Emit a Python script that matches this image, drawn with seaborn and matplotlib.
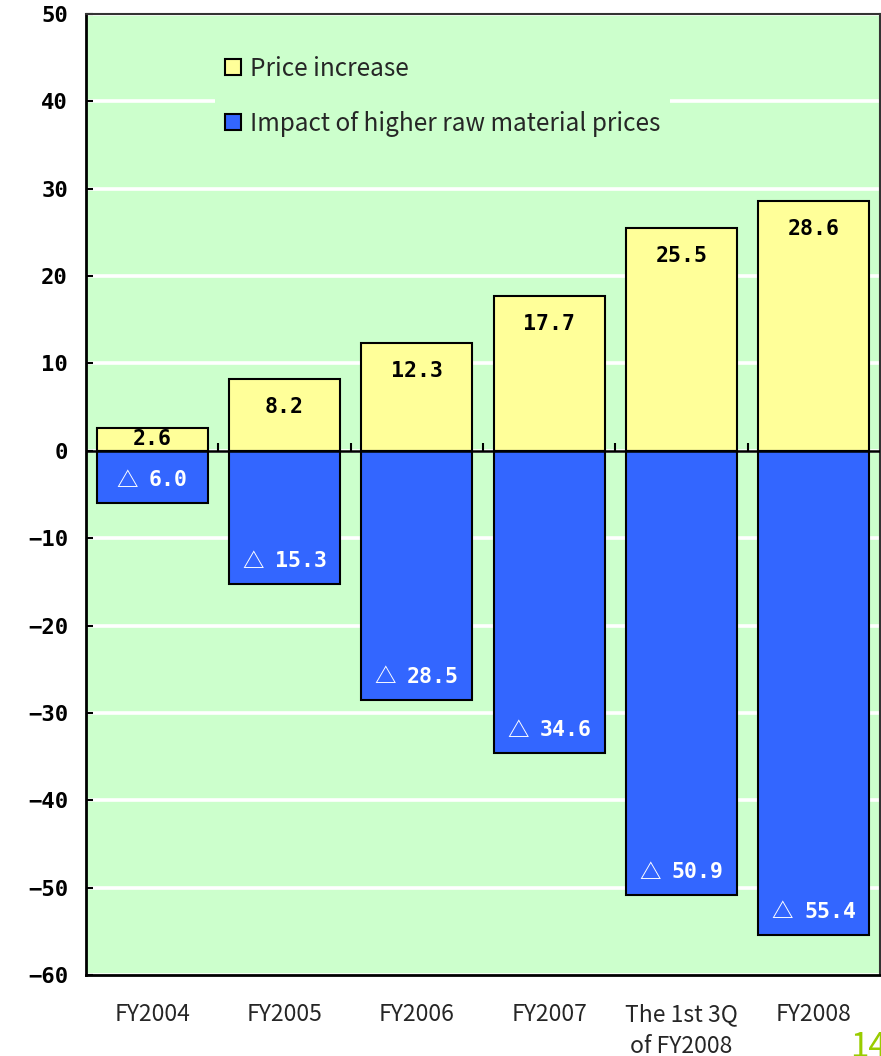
import matplotlib
matplotlib.use("Agg")
import matplotlib.pyplot as plt
from matplotlib.patches import Patch
import seaborn as sns
import pandas as pd

categories = ["FY2004", "FY2005", "FY2006", "FY2007", "The 1st 3Q\nof FY2008", "FY2008"]
price_increase = [2.6, 8.2, 12.3, 17.7, 25.5, 28.6]
raw_material_impact = [-6.0, -15.3, -28.5, -34.6, -50.9, -55.4]
series_names = ["Price increase", "Impact of higher raw material prices"]
y_ticks = list(range(-60, 51, 10))

GREEN = "#CCFFCC"
YELLOW = "#FFFF99"
BLUE = "#3366FF"
MONO = ["DejaVu Sans Mono", "DejaVu Sans"]
CJK = ["Noto Sans CJK JP", "DejaVu Sans"]

sns.set_theme(style="white")
plt.rcParams["font.family"] = CJK

df = pd.DataFrame({
    "category": categories * 2,
    "value": price_increase + raw_material_impact,
    "series": [series_names[0]] * len(categories) + [series_names[1]] * len(categories),
})

fig = plt.figure(figsize=(8.81, 10.56), dpi=100)
ax = fig.add_axes([86 / 881, 1 - 975 / 1056, (880 - 86) / 881, (975 - 14) / 1056])
ax.set_facecolor(GREEN)

sns.barplot(data=df, x="category", y="value", hue="series", order=categories,
            hue_order=series_names, dodge=False, saturation=1,
            palette={series_names[0]: YELLOW, series_names[1]: BLUE},
            edgecolor="black", linewidth=1.5, width=0.84, legend=False, ax=ax, zorder=3)

ax.set_xlim(-0.5, len(categories) - 0.5)
ax.set_ylim(-60, 50)
ax.set_yticks(y_ticks)
ax.set_yticklabels([str(t).replace("-", "\u2212") for t in y_ticks],
                   fontsize=16, fontweight="bold", family=MONO)
ax.yaxis.grid(True, color="white", linewidth=2.6)
ax.xaxis.grid(False)
ax.set_axisbelow(True)
ax.set_xlabel("")
ax.set_ylabel("")
ax.tick_params(axis="y", direction="in", length=5, width=1.5, pad=13, colors="black", left=True)
ax.tick_params(axis="x", length=0, pad=20, labelsize=16.5)
for lbl in ax.get_xticklabels():
    lbl.set_linespacing(1.5)
    lbl.set_verticalalignment("top")

for side in ["left", "bottom"]:
    ax.spines[side].set_color("black")
    ax.spines[side].set_linewidth(2)
for side in ["top", "right"]:
    ax.spines[side].set_color("#333333")
    ax.spines[side].set_linewidth(1.5)

# zero axis with separator ticks between categories
zero_pos = (0 - (-60)) / (50 - (-60))
sec = ax.secondary_xaxis(zero_pos)
sec.set_xticks([i + 0.5 for i in range(len(categories) - 1)])
sec.set_xticklabels([])
sec.tick_params(axis="x", direction="in", length=6, width=1.5, labelbottom=False,
                labeltop=False, bottom=True, top=False, colors="black")
sec.spines["bottom"].set_linewidth(1.8)
sec.spines["bottom"].set_color("black")
sec.spines["top"].set_visible(False)
sec.set_zorder(4)
ax.axhline(0, color="black", linewidth=1.8, zorder=4)

px2pt = 72 / 100
LABEL_FS = 15.5
fs_px = LABEL_FS * 100 / 72
for i, v in enumerate(price_increase):
    if v < 5:
        ax.text(i, v / 2, f"{v:.1f}", ha="center", va="center", fontsize=LABEL_FS,
                fontweight="bold", color="black", zorder=5, family=MONO)
    else:
        ax.annotate(f"{v:.1f}", xy=(i, v), xytext=(0, -28 * px2pt), textcoords="offset points",
                    ha="center", va="center", fontsize=LABEL_FS, fontweight="bold",
                    color="black", zorder=5, family=MONO)

for i, v in enumerate(raw_material_impact):
    num = f"{abs(v):.1f}"
    num_w = len(num) * 0.602 * fs_px
    tri_w = fs_px
    gap = 11
    left = -(tri_w + gap + num_w) / 2
    ax.annotate("△", xy=(i, v), xytext=(left * px2pt, 23 * px2pt), textcoords="offset points",
                ha="left", va="center", fontsize=LABEL_FS, fontweight="bold",
                color="white", zorder=5, family=CJK)
    ax.annotate(num, xy=(i, v), xytext=((left + tri_w + gap) * px2pt, 23 * px2pt),
                textcoords="offset points", ha="left", va="center", fontsize=LABEL_FS,
                fontweight="bold", color="white", zorder=5, family=MONO)

handles = [Patch(facecolor=YELLOW, edgecolor="black", linewidth=1.5),
           Patch(facecolor=BLUE, edgecolor="black", linewidth=1.5)]
leg = ax.legend(handles, series_names, loc="upper left",
                bbox_to_anchor=((215 - 86) / 794, 1 - (46 - 14) / 961),
                fontsize=17.5, frameon=True, facecolor=GREEN, edgecolor="none", framealpha=1,
                handlelength=0.65, handleheight=0.65, handletextpad=0.4,
                labelspacing=1.2, borderpad=0.4, borderaxespad=0)
leg.set_zorder(6)
leg.get_frame().set_boxstyle("square", pad=0)

fig.text(850 / 881, 1 - 1030 / 1056, "14", color="#99CC00", fontsize=24,
         ha="left", va="top")

fig.savefig("out.png", dpi=100)
